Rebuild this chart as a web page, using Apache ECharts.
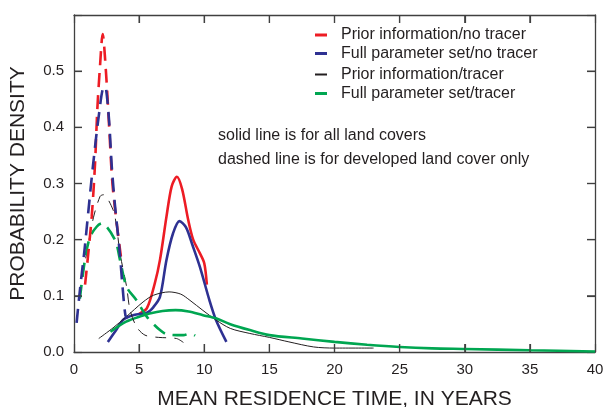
<!DOCTYPE html>
<html>
<head>
<meta charset="utf-8">
<script src="https://cdn.jsdelivr.net/npm/echarts@6/dist/echarts.min.js"></script>
<style>
  html, body { margin: 0; padding: 0; background: #fff; }
  #chart { width: 605px; height: 407px; }
</style>
</head>
<body>
<div id="chart"></div>
<script>
// series names (legend)
const names = [
  'Prior information/no tracer',
  'Full parameter set/no tracer',
  'Prior information/tracer',
  'Full parameter set/tracer'
]
const colors = ['#ed1c24', '#2e3192', '#231f20', '#00a651']

// solid: all land covers  [years, density]
const redSolid = [[5.0, 0.068], [5.6, 0.078], [6.2, 0.122], [6.6, 0.164], [7.1, 0.241], [7.5, 0.295], [7.9, 0.312], [8.3, 0.29], [8.77, 0.235], [9.15, 0.2], [9.66, 0.176], [10.0, 0.158], [10.2, 0.12]]
const blueSolid = [[2.6, 0.018], [3.2, 0.038], [3.8, 0.058], [4.6, 0.066], [5.6, 0.07], [6.1, 0.08], [6.6, 0.098], [7.1, 0.164], [7.6, 0.211], [8.1, 0.233], [8.6, 0.222], [9.1, 0.19], [9.66, 0.152], [10.4, 0.092], [10.9, 0.057], [11.7, 0.018]]
const blackSolid = [[1.9, 0.024], [3.0, 0.043], [4.0, 0.0625], [5.3, 0.089], [6.1, 0.101], [7.3, 0.107], [8.2, 0.103], [8.9, 0.092], [9.9, 0.074], [10.9, 0.057], [12.0, 0.042], [13.5, 0.033], [15.0, 0.026], [16.5, 0.018], [18.4, 0.009], [20.0, 0.007], [23.0, 0.007]]
const greenSolid = [[2.8, 0.036], [4.0, 0.054], [5.3, 0.065], [5.8, 0.0686], [6.8, 0.073], [7.8, 0.0745], [8.8, 0.072], [9.9, 0.0655], [10.9, 0.06], [12.0, 0.0495], [13.5, 0.039], [15.0, 0.03], [17.5, 0.024], [20.0, 0.018], [22.5, 0.013], [25.0, 0.009], [27.5, 0.0065], [30.0, 0.0054], [35.0, 0.003], [40.0, 0.001]]

// dashed: developed land cover only
const redDashed = [[0.85, 0.12], [1.02, 0.158], [1.36, 0.241], [1.61, 0.333], [1.79, 0.432], [2.0, 0.51], [2.2, 0.566], [2.45, 0.5], [2.7, 0.4], [2.95, 0.3], [3.3, 0.225], [3.6, 0.17]]
const blueDashed = [[0.2, 0.052], [0.5, 0.12], [0.8, 0.18], [1.1, 0.25], [1.45, 0.33], [1.9, 0.42], [2.3, 0.472], [2.45, 0.47], [2.7, 0.41], [2.9, 0.33], [3.15, 0.26], [3.5, 0.18], [3.75, 0.11], [3.95, 0.065], [4.1, 0.06]]
const blackDashed = [[0.4, 0.1], [1.0, 0.18], [1.5, 0.24], [2.0, 0.277], [2.25, 0.28], [3.0, 0.253], [3.27, 0.223], [3.53, 0.176], [4.04, 0.116], [4.3, 0.075], [4.8, 0.045], [5.45, 0.03], [6.5, 0.026], [7.87, 0.024], [8.4, 0.017]]
const greenDashed = [[0.45, 0.095], [0.84, 0.164], [1.23, 0.205], [1.74, 0.223], [2.12, 0.229], [3.14, 0.2], [3.53, 0.164], [4.04, 0.116], [4.8, 0.092], [5.6, 0.0625], [6.6, 0.039], [7.2, 0.031], [8.4, 0.03], [8.9, 0.033], [9.3, 0.029]]

const xTicks = [0, 40, 5]   // min, max, interval
const yTicks = [0, 0.6, 0.1]
// inner tick positions on the frame
const xTickVals = [5, 10, 15, 20, 25, 30, 35]
const yTickVals = [0.1, 0.2, 0.3, 0.4, 0.5]

const chart = echarts.init(document.getElementById('chart'))

function solid(i, data) {
  return {
    name: names[i], type: 'line', data: data, smooth: 0.3, showSymbol: false,
    itemStyle: { color: colors[i] },
    lineStyle: { color: colors[i], width: i === 2 ? 1 : 2.6 }
  }
}
function dashed(i, data) {
  return {
    name: names[i], type: 'line', data: data, smooth: 0.3, showSymbol: false,
    itemStyle: { color: colors[i] },
    lineStyle: { color: colors[i], width: i === 2 ? 1 : 2.6, type: i === 2 ? [11, 8] : [14, 8] }
  }
}

const txt = '#231f20'
const font = 'Liberation Sans, Arial, sans-serif'
const frameColor = '#404040'
const tickLen = 8
function frame() {
  return { show: true, onZero: false, lineStyle: { color: frameColor, width: 1.3 } }
}
function tick() {
  return { show: true, inside: true, length: tickLen, lineStyle: { color: frameColor, width: 1.2 } }
}
function tickLine(p, dx, dy) {
  return {
    type: 'line',
    shape: { x1: p[0], y1: p[1], x2: p[0] + dx, y2: p[1] + dy },
    style: { stroke: frameColor, lineWidth: 1.2 }
  }
}

// inside ticks on all four sides, placed with the axis scales
const xTickSeries = {
  type: 'custom', silent: true, z: 5,
  data: xTickVals.map(v => [v, yTicks[0]]),
  renderItem: (params, api) => {
    const v = api.value(0)
    const b = api.coord([v, yTicks[0]])
    const t = api.coord([v, yTicks[1]])
    return { type: 'group', children: [tickLine(b, 0, -tickLen), tickLine(t, 0, tickLen)] }
  }
}
const yTickSeries = {
  type: 'custom', silent: true, z: 5,
  data: yTickVals.map(v => [xTicks[0], v]),
  renderItem: (params, api) => {
    const v = api.value(1)
    const l = api.coord([xTicks[0], v])
    const r = api.coord([xTicks[1], v])
    return { type: 'group', children: [tickLine(l, tickLen, 0), tickLine(r, -tickLen, 0)] }
  }
}

const legendRows = [35, 53.5, 74.5, 93.5]

chart.setOption({
  animation: false,
  textStyle: { fontFamily: font },
  grid: { left: 74, right: 10, top: 15, bottom: 55, outerBoundsMode: 'none' },
  legend: legendRows.map((y, i) => ({
    data: [names[i]],
    left: 315, top: y - 8, padding: 0,
    icon: 'rect', itemWidth: 12, itemHeight: i === 2 ? 2 : 3,
    textStyle: { fontSize: 16, color: txt, padding: [0, 0, 0, 9] },
    selectedMode: false
  })),
  xAxis: [
    {
      type: 'value', min: xTicks[0], max: xTicks[1], interval: xTicks[2],
      name: 'MEAN RESIDENCE TIME, IN YEARS', nameLocation: 'middle', nameGap: 37,
      nameTextStyle: { fontSize: 21, color: txt },
      axisLine: frame(), axisTick: tick(), splitLine: { show: false },
      axisLabel: { fontSize: 15, color: txt, margin: 10 }
    },
    {
      type: 'value', position: 'top', min: xTicks[0], max: xTicks[1], interval: xTicks[2],
      axisLine: frame(), axisTick: tick(), splitLine: { show: false }, axisLabel: { show: false }
    }
  ],
  yAxis: [
    {
      type: 'value', min: yTicks[0], max: yTicks[1], interval: yTicks[2],
      name: 'PROBABILITY DENSITY', nameLocation: 'middle', nameGap: 45,
      nameTextStyle: { fontSize: 21, color: txt },
      axisLine: frame(), axisTick: tick(), splitLine: { show: false },
      axisLabel: {
        fontSize: 15, color: txt, margin: 10,
        formatter: v => (v > 0.55 ? '' : v.toFixed(1))
      }
    },
    {
      type: 'value', position: 'right', min: yTicks[0], max: yTicks[1], interval: yTicks[2],
      axisLine: frame(), axisTick: tick(), splitLine: { show: false }, axisLabel: { show: false }
    }
  ],
  graphic: [
    { type: 'text', left: 218, top: 128, style: { text: 'solid line is for all land covers', fontSize: 16, fill: txt, fontFamily: font } },
    { type: 'text', left: 218, top: 152, style: { text: 'dashed line is for developed land cover only', fontSize: 16, fill: txt, fontFamily: font } }
  ],
  series: [
    solid(0, redSolid),
    solid(1, blueSolid),
    solid(2, blackSolid),
    solid(3, greenSolid),
    dashed(2, blackDashed),
    dashed(3, greenDashed),
    dashed(0, redDashed),
    dashed(1, blueDashed),
    xTickSeries,
    yTickSeries
  ]
})
</script>
</body>
</html>
